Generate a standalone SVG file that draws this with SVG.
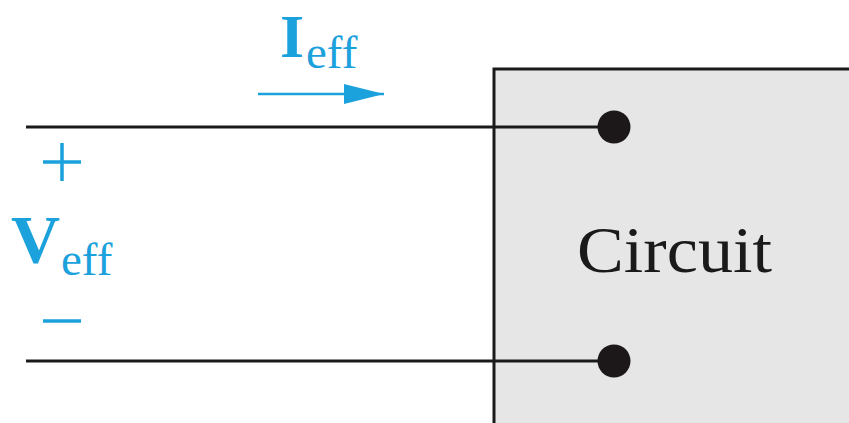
<svg xmlns="http://www.w3.org/2000/svg" width="849" height="423" viewBox="0 0 849 423">
<style>
.wire{stroke:#1a1a1a;stroke-width:3;fill:none}
.dot{fill:#1c1719}
.blue{fill:#1ba1dc;font-family:"Liberation Serif",serif}
.sign{stroke:#1ba1dc;stroke-width:3.5}
</style>
<defs>
<marker id="ah" viewBox="0 0 40 20" refX="40" refY="10" markerWidth="40" markerHeight="20" markerUnits="userSpaceOnUse" orient="auto">
<path d="M0,0 L40,10 L0,20 Z" fill="#1ba1dc"/>
</marker>
</defs>
<rect width="849" height="423" fill="#fff"/>
<g id="circuit">
<rect x="494" y="69" width="370" height="370" fill="#e6e6e6" stroke="#1a1a1a" stroke-width="3"/>
<text x="577" y="272" font-family="Liberation Serif,serif" font-size="66" fill="#1a1a1a" textLength="195" lengthAdjust="spacingAndGlyphs">Circuit</text>
</g>
<g id="connectors">
<line class="wire" x1="26" y1="127" x2="614" y2="127"/>
<line class="wire" x1="26" y1="361" x2="614" y2="361"/>
<line x1="258" y1="94" x2="384" y2="94" stroke="#1ba1dc" stroke-width="2.5" marker-end="url(#ah)"/>
</g>
<g id="terminal-top"><circle class="dot" cx="614" cy="127" r="16.5"/></g>
<g id="terminal-bottom"><circle class="dot" cx="614" cy="361" r="16.5"/></g>
<g id="current-label">
<text class="blue" x="280" y="57" font-size="62" font-weight="bold">I</text>
<text class="blue" x="306" y="68" font-size="47">eff</text>
</g>
<g id="voltage-label">
<line class="sign" x1="43" y1="162" x2="81" y2="162"/>
<line class="sign" x1="62" y1="143" x2="62" y2="181"/>
<text class="blue" x="11" y="262" font-size="68" font-weight="bold">V</text>
<text class="blue" x="61" y="275" font-size="47">eff</text>
<line class="sign" x1="43" y1="321" x2="81" y2="321"/>
</g>
</svg>
